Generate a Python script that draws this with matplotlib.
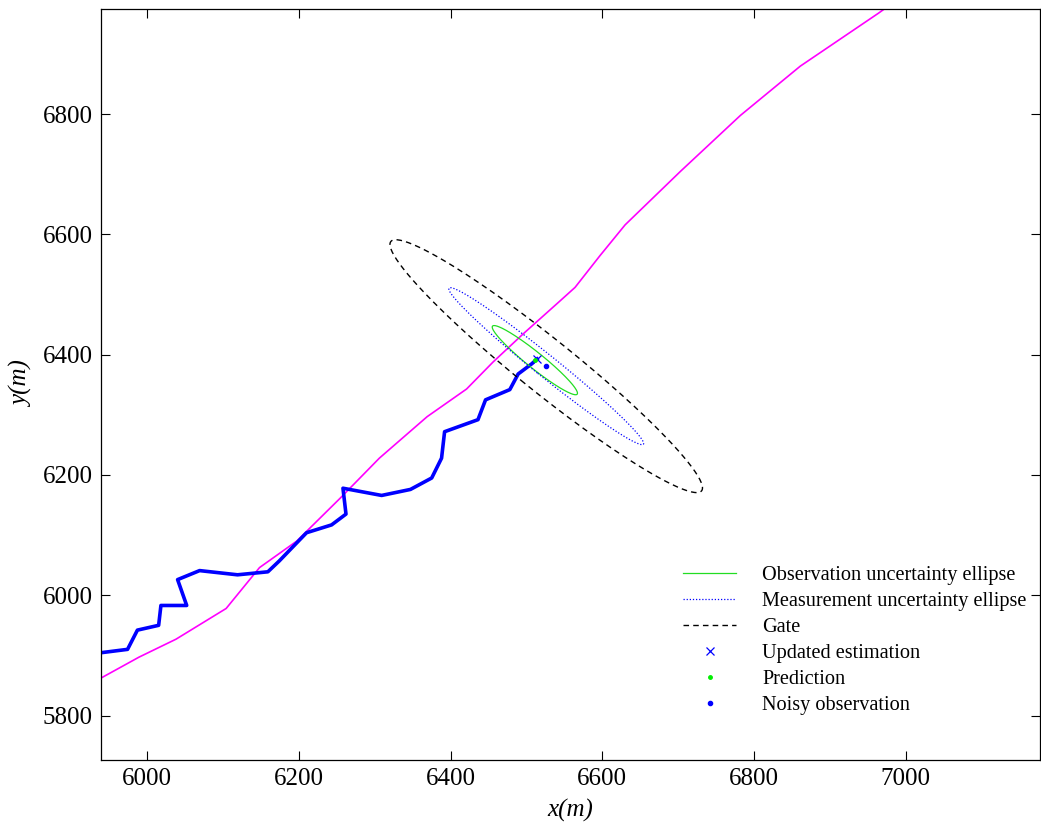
import numpy as np
import matplotlib
matplotlib.use("Agg")
import matplotlib.pyplot as plt

plt.rcParams['font.family'] = ['Liberation Serif', 'DejaVu Serif']

# true trajectory (magenta)
true_x = [5930, 5989, 6038, 6104, 6148, 6197, 6254, 6306, 6369, 6421, 6456,
          6495, 6542, 6564, 6597, 6630, 6703, 6782, 6861, 6964, 6975]
true_y = [5856, 5897, 5927, 5978, 6046, 6090, 6161, 6228, 6297, 6343, 6388,
          6434, 6487, 6512, 6565, 6616, 6705, 6798, 6880, 6968, 6978]

# filtered track (blue)
track_x = [5930, 5974, 5987, 6015, 6018, 6052, 6040, 6069, 6119, 6159, 6174,
           6210, 6243, 6262, 6258, 6309, 6347, 6375, 6388, 6392, 6436, 6446,
           6478, 6489, 6507, 6514]
track_y = [5903, 5910, 5942, 5950, 5983, 5983, 6026, 6041, 6034, 6039, 6057,
           6104, 6117, 6135, 6178, 6166, 6176, 6195, 6228, 6272, 6292, 6325,
           6342, 6368, 6385, 6393]

prediction = [6511, 6391]
updated = [6514, 6393]
observation = [6526, 6381]

# ellipse covariances (xx, xy, yy)
cov_obs = [3158, -3090, 3310]
cov_meas = [16493, -16499, 17047]
cov_gate = [42445, -41699, 44219]


def ellipse_pts(center, cov, n=200):
    P = np.array([[cov[0], cov[1]], [cov[1], cov[2]]])
    w, v = np.linalg.eigh(P)
    t = np.linspace(0, 2 * np.pi, n)
    circ = np.vstack([np.cos(t), np.sin(t)])
    pts = v @ np.diag(np.sqrt(w)) @ circ
    return center[0] + pts[0], center[1] + pts[1]


fig = plt.figure(figsize=(10.41, 8.25), dpi=100)
ax = fig.add_axes([101 / 1041, 1 - 760 / 825, 939 / 1041, 751 / 825])

ax.plot(true_x, true_y, color='magenta', lw=1.2)
ax.plot(track_x, track_y, color='blue', lw=2.6)

ex, ey = ellipse_pts(prediction, cov_obs)
ax.plot(ex, ey, color='#22dd22', lw=0.9, label='Observation uncertainty ellipse')
ex, ey = ellipse_pts(observation, cov_meas)
ax.plot(ex, ey, color='blue', lw=0.9, ls=(0, (1, 1.5)), label='Measurement uncertainty ellipse')
ex, ey = ellipse_pts(observation, cov_gate)
ax.plot(ex, ey, color='black', lw=1.0, ls=(0, (4, 3)), label='Gate')

ax.plot(updated[0], updated[1], 'x', color='blue', ms=6, mew=0.9, label='Updated estimation')
ax.plot(prediction[0], prediction[1], '.', color='#00ee00', ms=5, label='Prediction')
ax.plot(observation[0], observation[1], '.', color='blue', ms=6, label='Noisy observation')

ax.set_xlim(5939, 7177)
ax.set_ylim(5726, 6975)
ax.set_xticks([6000, 6200, 6400, 6600, 6800, 7000])
ax.set_yticks([5800, 6000, 6200, 6400, 6600, 6800])
ax.tick_params(direction='in', length=6.5, width=0.8, top=True, right=True,
               labelsize=18, pad=6)
for s in ax.spines.values():
    s.set_linewidth(0.9)

ax.set_xlabel('x(m)', fontsize=18, fontstyle='italic', labelpad=6)
ax.set_ylabel('y(m)', fontsize=18, fontstyle='italic', labelpad=6)

ax.legend(loc='upper left', bbox_to_anchor=(0.62, 0.259), frameon=False,
          fontsize=14.6, handlelength=2.6, handletextpad=1.3, labelspacing=0.34,
          borderpad=0, borderaxespad=0)

fig.savefig('out.png', dpi=100)
